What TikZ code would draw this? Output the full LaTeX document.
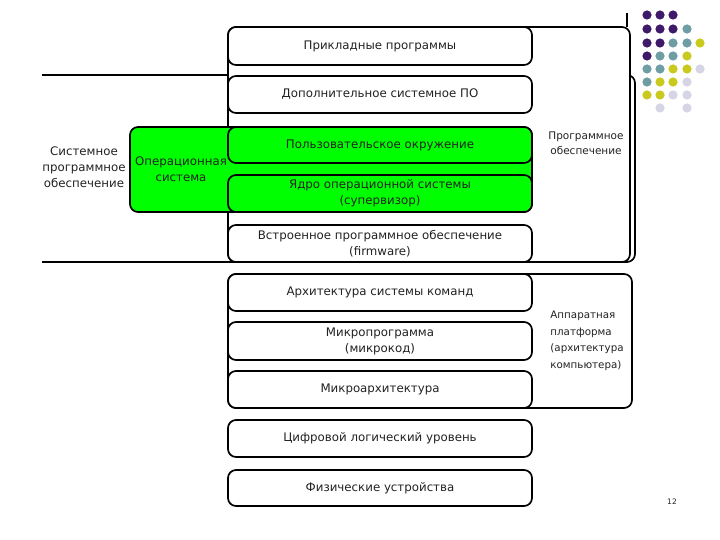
\documentclass[tikz,border=0pt]{standalone}
\usepackage{fontspec}
\setmainfont{DejaVu Sans}
\definecolor{dpurple}{HTML}{3F1A6B}
\definecolor{dteal}{HTML}{6E9EA3}
\definecolor{dyellow}{HTML}{CACA1E}
\definecolor{dlav}{HTML}{D5D5E6}
\definecolor{osgreen}{HTML}{00FF00}
\definecolor{txt}{HTML}{222222}
\begin{document}
\begin{tikzpicture}[x=1pt,y=-1pt,
  layerbox/.style={draw=black, line width=1.7pt, rounded corners=8pt, fill=white,
    minimum width=304pt, inner sep=0pt, align=center, text=txt,
    font=\fontsize{11.8}{16}\selectfont},
  greenbox/.style={layerbox, fill=osgreen},
  frameline/.style={draw=black, line width=1.7pt, rounded corners=8pt},
  sidelabel/.style={align=center, text=txt, inner sep=0pt, font=\fontsize{11.8}{16}\selectfont},
  dot/.style={radius=4.6pt}
]
\useasboundingbox (0,0) rectangle (720,540);
\fill[white] (0,0) rectangle (720,540);

% frame: system software (open at the left)
\draw[frameline] (42,75) -- (635,75) -- (635,262) -- (42,262);
% frame: software
\draw[frameline, fill=white] (228,27) rectangle (630,262);
\draw[black, line width=1.2pt] (627,13) -- (627,27);
% frame: hardware platform
\draw[frameline, fill=white] (228,274) rectangle (632,408);

% operating system block
\node[draw=black, line width=1.7pt, rounded corners=8pt, fill=osgreen,
  minimum width=402pt, minimum height=85pt, inner sep=0pt] (os) at (331,169.5) {};
\node[sidelabel] (oslbl) at (181,169) {Операционная\\система};

% layers
\node[layerbox, minimum height=38pt] (b1) at (380,46) {Прикладные программы};
\node[layerbox, minimum height=37pt] (b2) at (380,94.5) {Дополнительное системное ПО};
\node[greenbox, minimum height=36pt] (b3) at (380,145) {Пользовательское окружение};
\node[greenbox, minimum height=37pt] (b4) at (380,193.5) {Ядро операционной системы\\(супервизор)};
\node[layerbox, minimum height=37pt] (b5) at (380,243.5) {Встроенное программное обеспечение\\(firmware)};
\node[layerbox, minimum height=37pt] (b6) at (380,292.5) {Архитектура системы команд};
\node[layerbox, minimum height=38pt] (b7) at (380,341) {Микропрограмма\\(микрокод)};
\node[layerbox, minimum height=37pt] (b8) at (380,389.5) {Микроархитектура};
\node[layerbox, minimum height=37pt] (b9) at (380,438.5) {Цифровой логический уровень};
\node[layerbox, minimum height=36pt] (b10) at (380,488) {Физические устройства};

% side labels
\node[sidelabel] (sys) at (84,167) {Системное\\программное\\обеспечение};
\node[sidelabel, font=\fontsize{10.5}{14.5}\selectfont] (soft) at (586,143) {Программное\\обеспечение};
\node[sidelabel, align=left, font=\fontsize{10.3}{16.5}\selectfont] (hw) at (587,341) {Аппаратная\\платформа\\(архитектура\\компьютера)};

% decorative dots
\foreach \c/\x/\y in {
  dpurple/647/15, dpurple/660/15, dpurple/673/15,
  dpurple/647/29, dpurple/660/29, dpurple/673/29, dteal/687/29,
  dpurple/647/43, dpurple/660/43, dteal/673/43, dteal/687/43, dyellow/700/43,
  dpurple/647/56, dteal/660/56, dteal/673/56, dyellow/687/56,
  dteal/647/69, dteal/660/69, dyellow/673/69, dyellow/687/69, dlav/700/69,
  dteal/647/82, dyellow/660/82, dyellow/673/82, dlav/687/82,
  dyellow/647/95, dyellow/660/95, dlav/673/95, dlav/687/95,
  dlav/660/108, dlav/687/108}
  \fill[\c] (\x,\y) circle[dot];

\node[font=\fontsize{7.5}{8}\selectfont, text=txt] (pg) at (672,502) {12};
\end{tikzpicture}
\end{document}
